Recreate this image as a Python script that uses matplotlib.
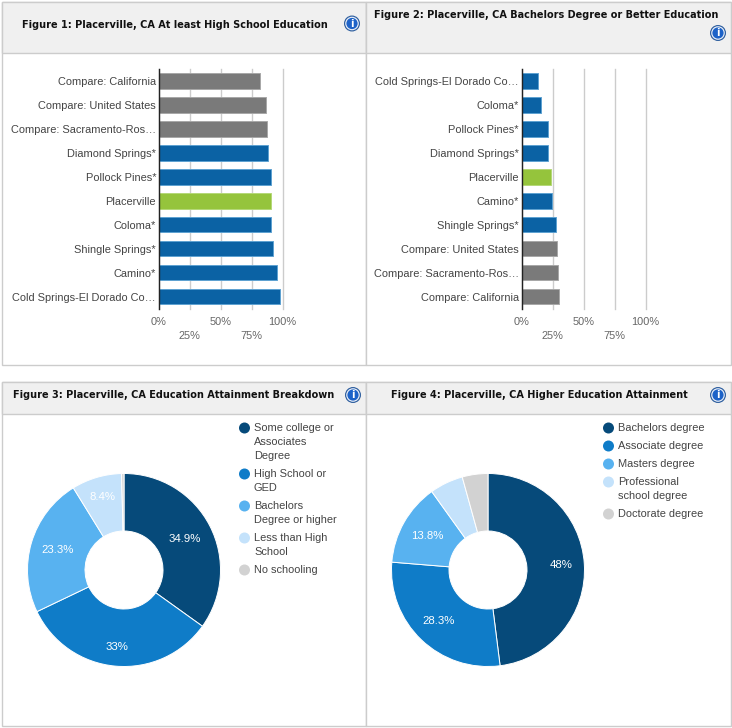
import math
import matplotlib
matplotlib.use("Agg")
import matplotlib.pyplot as plt
from matplotlib.patches import Rectangle, Circle

# ---------- data ----------
fig1_title = "Figure 1: Placerville, CA At least High School Education"
fig1_cats = ["Compare: California", "Compare: United States", "Compare: Sacramento-Ros\u2026",
             "Diamond Springs*", "Pollock Pines*", "Placerville", "Coloma*",
             "Shingle Springs*", "Camino*", "Cold Springs-El Dorado Co\u2026"]
fig1_vals = [81.5, 86.3, 87.9, 88.7, 91.1, 91.1, 91.0, 92.0, 95.2, 97.6]

fig2_title = "Figure 2: Placerville, CA Bachelors Degree or Better Education"
fig2_cats = ["Cold Springs-El Dorado Co\u2026", "Coloma*", "Pollock Pines*", "Diamond Springs*",
             "Placerville", "Camino*", "Shingle Springs*", "Compare: United States",
             "Compare: Sacramento-Ros\u2026", "Compare: California"]
fig2_vals = [13.7, 16.1, 21.0, 21.0, 23.4, 24.2, 28.2, 29.0, 29.8, 30.6]

x_ticks = [0, 25, 50, 75, 100]
x_labels = ["0%", "25%", "50%", "75%", "100%"]

fig3_title = "Figure 3: Placerville, CA Education Attainment Breakdown"
fig3_labels = ["Some college or\nAssociates\nDegree", "High School or\nGED",
               "Bachelors\nDegree or higher", "Less than High\nSchool", "No schooling"]
fig3_vals = [34.9, 33.0, 23.3, 8.4, 0.4]
fig3_text = ["34.9%", "33%", "23.3%", "8.4%", ""]

fig4_title = "Figure 4: Placerville, CA Higher Education Attainment"
fig4_labels = ["Bachelors degree", "Associate degree", "Masters degree",
               "Professional\nschool degree", "Doctorate degree"]
fig4_vals = [48.0, 28.3, 13.8, 5.6, 4.3]
fig4_text = ["48%", "28.3%", "13.8%", "", ""]

# ---------- style ----------
W, H = 732, 728
BLUE, GRAY, GREEN = "#0b62a4", "#7a7a7a", "#95c43c"
PIE_COLORS = ["#064a7a", "#0f7cc8", "#58b2f0", "#c4e2fb", "#d2d2d2"]
LINE = "#cccccc"
fig3_label_radius = [0.71, 0.80, 0.72, 0.79, 0.7]
fig4_label_radius = [0.76, 0.735, 0.72, 0.7, 0.7]
plt.rcParams["font.family"] = ["Liberation Sans", "DejaVu Sans"]
LABEL_PT = 7.9

fig = plt.figure(figsize=(W / 100, H / 100), dpi=100, facecolor="white")
bg = fig.add_axes([0, 0, 1, 1], zorder=0)
bg.set_xlim(0, W)
bg.set_ylim(H, 0)
bg.axis("off")


def px_axes(x0, y0, x1, y1, **kw):
    return fig.add_axes([x0 / W, 1 - y1 / H, (x1 - x0) / W, (y1 - y0) / H], **kw)


def panel(x0, y0, x1, y1, header_bottom):
    bg.add_patch(Rectangle((x0, y0), x1 - x0, y1 - y0, fc="white", ec=LINE, lw=1.0))
    bg.add_patch(Rectangle((x0, y0), x1 - x0, header_bottom - y0, fc="#f0f0f0", ec=LINE, lw=1.0))


def info(cx, cy):
    bg.add_patch(Circle((cx, cy), 8, fc="#2f5f9f", ec="none", zorder=3))
    bg.add_patch(Circle((cx, cy), 6.8, fc="#e8eef8", ec="none", zorder=3))
    bg.add_patch(Circle((cx, cy), 5.6, fc="#1c62c8", ec="none", zorder=3))
    bg.text(cx, cy + 0.3, "i", color="white", fontsize=7, fontweight="bold",
            family="DejaVu Sans", ha="center", va="center", zorder=4)


def title(x, y, s):
    bg.text(x, y, s, fontsize=7.06, fontweight="bold", family="DejaVu Sans",
            color="#111111", ha="left", va="center")


def bars(x0, x1, cats, vals):
    ax = px_axes(x0, 68.7, x1, 308.5, facecolor="none", zorder=2)
    colors, edges = [], []
    for c in cats:
        if c.startswith("Compare"):
            colors.append(GRAY); edges.append("#a8a8a8")
        elif c == "Placerville":
            colors.append(GREEN); edges.append("#b5d878")
        else:
            colors.append(BLUE); edges.append("#5ea2d2")
    pos = list(range(len(cats)))
    ax.barh(pos, vals, height=0.66, color=colors, edgecolor=edges, linewidth=0.7, zorder=3)
    ax.set_ylim(len(cats) - 0.5, -0.5)
    ax.set_xlim(0, 100)
    ax.set_yticks(pos, cats, fontsize=LABEL_PT, color="#444444")
    ax.set_xticks(x_ticks, x_labels, fontsize=LABEL_PT, color="#666666")
    ax.tick_params(axis="y", length=0, pad=1.8)
    ax.tick_params(axis="x", length=0)
    for i, t in enumerate(ax.xaxis.get_major_ticks()):
        t.set_pad(16.4 if i % 2 else 6.4)
    ax.grid(axis="x", color=LINE, lw=1.0, zorder=1, clip_on=False)
    ax.set_axisbelow(True)
    for k in ("top", "right", "bottom"):
        ax.spines[k].set_visible(False)
    ax.spines["left"].set_color("#222222")
    ax.spines["left"].set_linewidth(1.0)
    ax.spines["left"].set_zorder(5)
    return ax


def donut(cx, cy, vals, texts, radii):
    r = 96.5
    ax = px_axes(cx - r, cy - r, cx + r, cy + r, facecolor="none", zorder=2)
    ax.pie(vals, colors=PIE_COLORS, startangle=90, counterclock=False, radius=1,
           wedgeprops=dict(width=1 - 39 / r, edgecolor="white", linewidth=0.7))
    ax.set_xlim(-1, 1)
    ax.set_ylim(-1, 1)
    total = sum(vals)
    cum = 0
    for v, s, rad in zip(vals, texts, radii):
        a = math.radians(90 - (cum + v / 2) * 360 / total)
        cum += v
        if s:
            ax.text(rad * math.cos(a), rad * math.sin(a), s, color="white",
                    fontsize=LABEL_PT + 0.3, ha="center", va="center")
    return ax


def legend(x_dot, x_text, y_first, labels):
    y = y_first
    for lab, col in zip(labels, PIE_COLORS):
        bg.add_patch(Circle((x_dot, y), 5.5, fc=col, ec="none", zorder=3))
        lines = lab.split("\n")
        for j, ln in enumerate(lines):
            bg.text(x_text, y + j * 14, ln, fontsize=LABEL_PT, color="#444444",
                    ha="left", va="center", zorder=3)
        y += len(lines) * 14 + 4


# ---------- panels ----------
panel(1.5, 1.5, 365.5, 365, 52.5)
panel(365.5, 1.5, 730.5, 365, 52.5)
panel(1.5, 381.5, 365.5, 726, 413.5)
panel(365.5, 381.5, 730.5, 726, 413.5)

title(22, 24.5, fig1_title)
title(374, 15.5, fig2_title)
title(13, 395.5, fig3_title)
title(391, 395.5, fig4_title)
info(352, 23.5)
info(718, 33)
info(353, 395)
info(718, 395)

bars(158.5, 282.5, fig1_cats, fig1_vals)
bars(521.5, 645.5, fig2_cats, fig2_vals)

donut(124, 570, fig3_vals, fig3_text, fig3_label_radius)
donut(488, 570, fig4_vals, fig4_text, fig4_label_radius)

legend(244.5, 254, 428, fig3_labels)
legend(608.5, 618, 428, fig4_labels)

fig.savefig("out.png", dpi=100, facecolor="white")
